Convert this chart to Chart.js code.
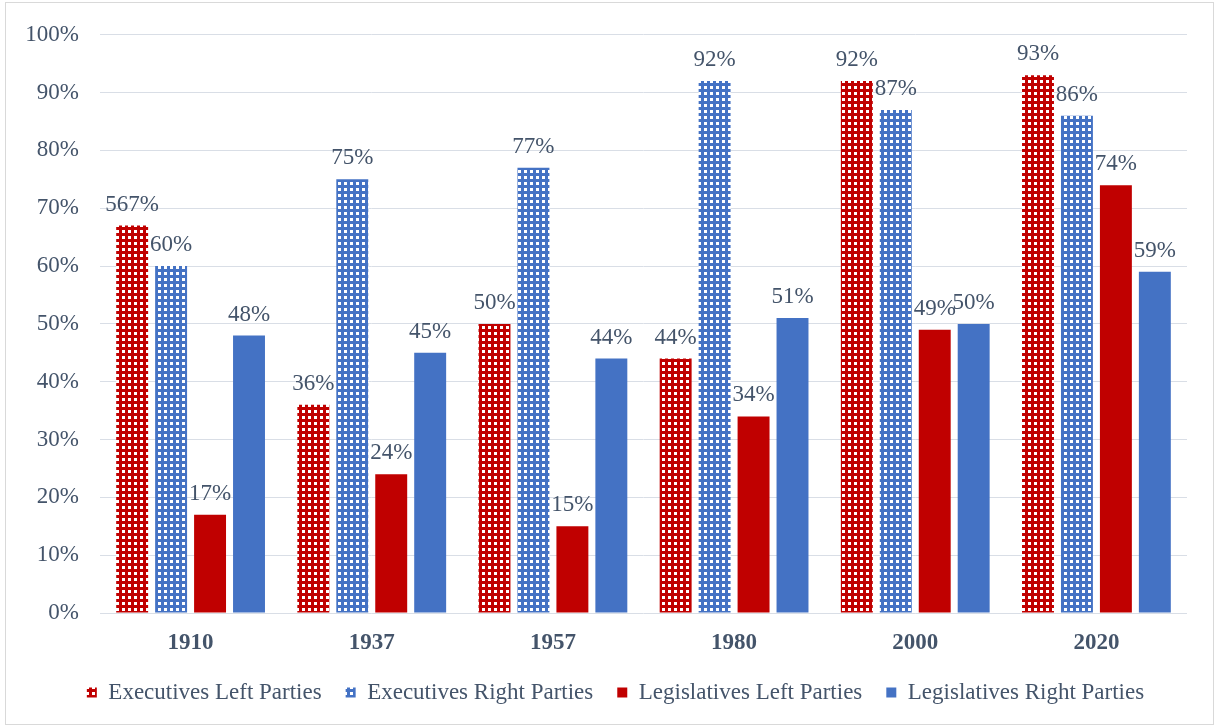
<!DOCTYPE html>
<html>
<head>
<meta charset="utf-8">
<script src="https://cdn.jsdelivr.net/npm/chart.js@4.4.1/dist/chart.umd.min.js"></script>
<style>
  html, body { margin: 0; padding: 0; background: #ffffff; }
  #wrap { width: 1215px; height: 728px; }
</style>
</head>
<body>
<div id="wrap"><canvas id="chart" width="1215" height="728"></canvas></div>
<script>
  // data
  var categories = ['1910', '1937', '1957', '1980', '2000', '2020'];
  var execLeft = [67, 36, 50, 44, 92, 93];
  var execRight = [60, 75, 77, 92, 87, 86];
  var legLeft = [17, 24, 15, 34, 49, 74];
  var legRight = [48, 45, 44, 51, 50, 59];
  // the original figure prints "567%" on the first bar
  var execLeftLabels = ['567%', '36%', '50%', '44%', '92%', '93%'];
  var yTicks = [0, 10, 20, 30, 40, 50, 60, 70, 80, 90, 100];

  var RED = '#c00000';
  var BLUE = '#4472c4';
  var TEXT = '#44546a';
  var FONT = "'Liberation Serif', 'Times New Roman', serif";
  var FS = 23;

  function dotPattern(color) {
    var c = document.createElement('canvas');
    c.width = 6;
    c.height = 6;
    var g = c.getContext('2d');
    g.fillStyle = color;
    g.fillRect(0, 0, 6, 6);
    g.fillStyle = '#ffffff';
    g.fillRect(2, 2, 3, 3);
    return g.createPattern(c, 'repeat');
  }

  var borderPlugin = {
    id: 'outerBorder',
    beforeDraw: function (chart) {
      var ctx = chart.ctx;
      ctx.save();
      ctx.strokeStyle = '#d9d9d9';
      ctx.lineWidth = 1;
      ctx.strokeRect(5.5, 2.5, 1208, 722);
      ctx.restore();
    }
  };

  // legend in the original sits a bit right of the canvas centre
  var legendShift = {
    id: 'legendShift',
    afterLayout: function (chart) {
      if (chart.legend) chart.legend.left += 34;
    }
  };

  var labelPlugin = {
    id: 'barLabels',
    afterDatasetsDraw: function (chart) {
      var ctx = chart.ctx;
      ctx.save();
      ctx.font = FS + 'px ' + FONT;
      ctx.fillStyle = TEXT;
      ctx.textAlign = 'center';
      ctx.textBaseline = 'middle';
      chart.data.datasets.forEach(function (ds, i) {
        var meta = chart.getDatasetMeta(i);
        meta.data.forEach(function (bar, j) {
          var txt = ds.labelTexts ? ds.labelTexts[j] : ds.data[j] + '%';
          ctx.fillText(txt, bar.x, bar.y - 21);
        });
      });
      ctx.restore();
    }
  };

  var datasets = [
    { label: 'Executives Left Parties', data: execLeft, backgroundColor: dotPattern(RED), labelTexts: execLeftLabels },
    { label: 'Executives Right Parties', data: execRight, backgroundColor: dotPattern(BLUE) },
    { label: 'Legislatives Left Parties', data: legLeft, backgroundColor: RED },
    { label: 'Legislatives Right Parties', data: legRight, backgroundColor: BLUE }
  ];

  new Chart(document.getElementById('chart'), {
    type: 'bar',
    data: { labels: categories, datasets: datasets },
    options: {
      responsive: false,
      animation: false,
      datasets: {
        bar: { categoryPercentage: 0.86, barPercentage: 0.82 }
      },
      layout: { padding: { top: 32, right: 28, left: 10, bottom: 14 } },
      plugins: {
        legend: {
          position: 'bottom',
          labels: {
            boxWidth: 10,
            boxHeight: 10,
            padding: 24,
            color: TEXT,
            font: { family: FONT, size: FS }
          }
        },
        tooltip: { enabled: false }
      },
      scales: {
        x: {
          grid: { display: false, drawTicks: false },
          border: { display: false },
          ticks: {
            color: TEXT,
            padding: 16,
            font: { family: FONT, size: FS, weight: 'bold' }
          },
          afterFit: function (scale) { scale.height = 44; }
        },
        y: {
          min: 0,
          max: 100,
          afterBuildTicks: function (scale) {
            scale.ticks = yTicks.map(function (v) { return { value: v }; });
          },
          grid: { color: '#d9dee6', lineWidth: 1, drawTicks: false },
          border: { display: false },
          ticks: {
            color: TEXT,
            padding: 21,
            font: { family: FONT, size: FS },
            callback: function (v) { return v + '%'; }
          },
          afterFit: function (scale) { scale.width = 90; }
        }
      }
    },
    plugins: [borderPlugin, legendShift, labelPlugin]
  });
</script>
</body>
</html>
